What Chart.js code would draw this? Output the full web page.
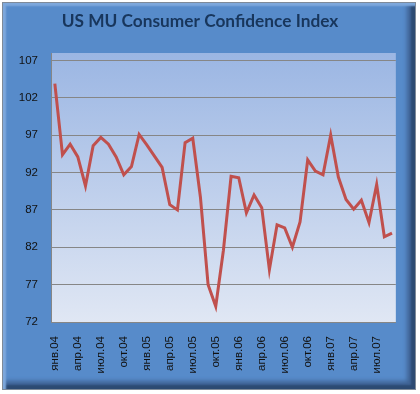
<!DOCTYPE html>
<html>
<head>
<meta charset="utf-8">
<script src="https://cdn.jsdelivr.net/npm/chart.js@4/dist/chart.umd.min.js"></script>
<style>
    html, body { margin: 0; padding: 0; background: #fff; }
    #frame {
        position: absolute; left: 2px; top: 2px; width: 414px; height: 388px;
        background: #578bca;
        border: 1px solid #7f8a98;
        box-sizing: border-box;
        box-shadow: inset 3px 3px 2px #7ea8dc, inset -4px -4px 2px #2c4a72, inset -8px -8px 4px #3f6394;
    }
    #wrap { position: absolute; left: 0; top: 0; width: 420px; height: 394px; }
</style>
</head>
<body>
<div id="frame"></div>
<div id="wrap"><canvas id="chart" width="420" height="394"></canvas></div>
<script>
// DATA
const chartTitle = 'US MU Consumer Confidence Index';
const months = ['янв', 'фев', 'мар', 'апр', 'май', 'июн', 'июл', 'авг', 'сен', 'окт', 'ноя', 'дек'];
const years = ['04', '05', '06', '07'];
const categories = [];
years.forEach(y => months.forEach(m => categories.push(m + '.' + y)));
categories.length = 45; // янв.04 .. сен.07

const confidence = [
    103.9, 94.4, 95.8, 94.1, 90.2, 95.6, 96.7, 95.8, 94.1, 91.7, 92.8, 97.1,
    95.7, 94.2, 92.7, 87.7, 87.0, 96.0, 96.6, 88.7, 77.0, 74.1, 81.6, 91.5,
    91.3, 86.6, 89.0, 87.3, 79.0, 85.0, 84.6, 82.0, 85.4, 93.7, 92.2, 91.7,
    97.0, 91.4, 88.4, 87.1, 88.3, 85.3, 90.4, 83.4, 83.9
];
const yTicks = [72, 77, 82, 87, 92, 97, 102, 107];

// PLOT BACKGROUND + TITLE
const decor = {
    id: 'decor',
    beforeDraw(chart) {
        const { ctx, chartArea: a } = chart;
        const g = ctx.createLinearGradient(0, a.top, 0, a.bottom);
        g.addColorStop(0, '#9bb6e3');
        g.addColorStop(1, '#e0e7f4');
        ctx.save();
        ctx.fillStyle = g;
        ctx.fillRect(a.left, a.top, a.right - a.left, a.bottom - a.top);
        ctx.restore();
    },
    afterDraw(chart) {
        const ctx = chart.ctx;
        ctx.save();
        ctx.font = 'bold 17.3px Lato';
        ctx.fillStyle = '#18365c';
        ctx.textAlign = 'center';
        ctx.textBaseline = 'alphabetic';
        ctx.fillText(chartTitle, 200, 27);
        ctx.restore();
    }
};

new Chart(document.getElementById('chart'), {
    type: 'line',
    data: {
        labels: categories,
        datasets: [{
            data: confidence,
            borderColor: '#c0504d',
            borderWidth: 3,
            pointRadius: 0,
            tension: 0,
            fill: false
        }]
    },
    options: {
        responsive: false,
        animation: false,
        layout: { padding: { top: 53, right: 18, left: 0, bottom: 0 } },
        plugins: { legend: { display: false }, tooltip: { enabled: false }, title: { display: false } },
        scales: {
            x: {
                offset: true,
                grid: { display: false, drawTicks: false },
                border: { display: true, color: '#868686', width: 1 },
                ticks: {
                    autoSkip: false,
                    minRotation: 90,
                    maxRotation: 90,
                    padding: 14,
                    color: '#111',
                    font: { family: 'Liberation Sans', size: 11.5 },
                    callback: (v, i) => (i % 3 === 0 ? categories[i] : '')
                },
                afterFit(scale) { scale.height = 72; }
            },
            y: {
                min: 72,
                max: 108,
                afterBuildTicks(scale) { scale.ticks = yTicks.map(v => ({ value: v })); },
                grid: { color: '#868686', lineWidth: 1, drawTicks: false },
                border: { display: true, color: '#868686', width: 1 },
                ticks: {
                    padding: 13,
                    color: '#111',
                    font: { family: 'Liberation Sans', size: 11.5 }
                },
                afterFit(scale) { scale.width = 51; }
            }
        }
    },
    plugins: [decor]
});
</script>
</body>
</html>
